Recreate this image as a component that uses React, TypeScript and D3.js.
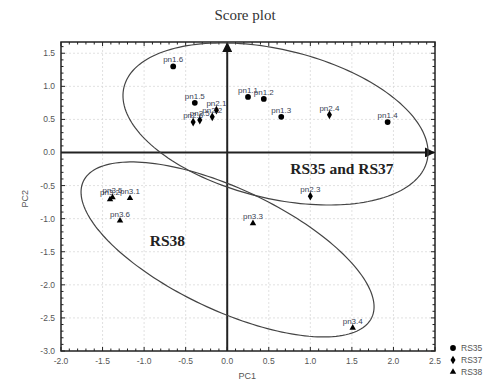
import React, { useEffect, useRef } from "react";
import * as d3 from "d3";

// sample names, groups and scores
const names = [
  "pn1.1", "pn1.2", "pn1.3", "pn1.4", "pn1.5", "pn1.6",
  "pn2.1", "pn2.2", "pn2.3", "pn2.4", "pn2.5", "pn2.6",
  "pn3.1", "pn3.2", "pn3.3", "pn3.4", "pn3.5", "pn3.6",
];
const groups = [
  "RS35", "RS35", "RS35", "RS35", "RS35", "RS35",
  "RS37", "RS37", "RS37", "RS37", "RS37", "RS37",
  "RS38", "RS38", "RS38", "RS38", "RS38", "RS38",
];
const pc1 = [0.25, 0.44, 0.65, 1.93, -0.39, -0.65, -0.13, -0.18, 1.0, 1.23, -0.33, -0.41, -1.17, -1.41, 0.31, 1.51, -1.38, -1.29];
const pc2 = [0.84, 0.81, 0.54, 0.46, 0.75, 1.3, 0.64, 0.54, -0.66, 0.57, 0.49, 0.46, -0.69, -0.71, -1.07, -2.65, -0.68, -1.03];

const xTicks = [-2.0, -1.5, -1.0, -0.5, 0.0, 0.5, 1.0, 1.5, 2.0, 2.5];
const yTicks = [-3.0, -2.5, -2.0, -1.5, -1.0, -0.5, 0.0, 0.5, 1.0, 1.5];
const legendGroups = ["RS35", "RS37", "RS38"];

// confidence ellipses: centre and two half-axis vectors, in PC units
const ellipseCenters = [[0.581, 0.431], [0.004, -1.465]];
const ellipseAxisA = [[1.823, -0.557], [1.735, -1.03]];
const ellipseAxisB = [[-0.212, -1.091], [-0.312, -0.829]];
const ellipseLabels = ["RS35 and RS37", "RS38"];
const ellipseLabelPos = [[1.38, -0.33], [-0.72, -1.42]];

const W = 491, H = 381;

export default function App() {
  const ref = useRef<SVGSVGElement>(null);

  useEffect(() => {
    const svg = d3.select(ref.current);
    svg.selectAll("*").remove();

    const left = 61, right = 435, top = 42, bottom = 351;
    const x = d3.scaleLinear().domain([-2, 2.5]).range([left, right]);
    const y = d3.scaleLinear().domain([-3, 1.67]).range([bottom, top]);

    const sans = "'Liberation Sans', Arial, sans-serif";
    const serif = "'Liberation Serif', 'Times New Roman', serif";

    // title
    svg.append("text")
      .attr("x", 245).attr("y", 20)
      .attr("text-anchor", "middle")
      .style("font-family", serif).style("font-size", "15px").attr("fill", "#333")
      .text("Score plot");

    // grid
    const grid = svg.append("g").attr("stroke", "#d9d9d9").attr("stroke-dasharray", "2,2").attr("stroke-width", 0.8);
    xTicks.slice(1, -1).forEach(t => {
      grid.append("line").attr("x1", x(t)).attr("x2", x(t)).attr("y1", top).attr("y2", bottom);
    });
    yTicks.slice(1).forEach(t => {
      grid.append("line").attr("x1", left).attr("x2", right).attr("y1", y(t)).attr("y2", y(t));
    });

    // frame with inward ticks on all sides
    svg.append("rect")
      .attr("x", left).attr("y", top).attr("width", right - left).attr("height", bottom - top)
      .attr("fill", "none").attr("stroke", "#222").attr("stroke-width", 1.5);

    const ticks = svg.append("g").attr("stroke", "#222").attr("stroke-width", 1);
    d3.range(-2, 2.5001, 0.1).forEach(t => {
      const major = Math.abs(t * 2 - Math.round(t * 2)) < 1e-6;
      const len = major ? 4 : 2.5;
      ticks.append("line").attr("x1", x(t)).attr("x2", x(t)).attr("y1", bottom).attr("y2", bottom - len);
      ticks.append("line").attr("x1", x(t)).attr("x2", x(t)).attr("y1", top).attr("y2", top + len);
    });
    d3.range(-3, 1.67, 0.1).forEach(t => {
      const major = Math.abs(t * 2 - Math.round(t * 2)) < 1e-6;
      const len = major ? 4 : 2.5;
      ticks.append("line").attr("x1", left).attr("x2", left + len).attr("y1", y(t)).attr("y2", y(t));
      ticks.append("line").attr("x1", right).attr("x2", right - len).attr("y1", y(t)).attr("y2", y(t));
    });

    // tick labels
    xTicks.forEach(t => {
      svg.append("text")
        .attr("x", x(t)).attr("y", bottom + 13)
        .attr("text-anchor", "middle")
        .style("font-family", sans).style("font-size", "8.5px").attr("fill", "#555")
        .text(t.toFixed(1));
    });
    yTicks.forEach(t => {
      svg.append("text")
        .attr("x", left - 6).attr("y", y(t) + 3)
        .attr("text-anchor", "end")
        .style("font-family", sans).style("font-size", "8.5px").attr("fill", "#555")
        .text(t.toFixed(1));
    });

    // axis titles
    svg.append("text")
      .attr("x", x(0.24)).attr("y", 379)
      .attr("text-anchor", "middle")
      .style("font-family", sans).style("font-size", "9px").attr("fill", "#555")
      .text("PC1");
    svg.append("text")
      .attr("transform", `translate(28,${y(-0.7)})rotate(-90)`)
      .attr("text-anchor", "middle")
      .style("font-family", sans).style("font-size", "9px").attr("fill", "#555")
      .text("PC2");

    // arrows through the origin
    const defs = svg.append("defs");
    defs.append("marker")
      .attr("id", "arrow").attr("viewBox", "0 0 10 10")
      .attr("refX", 9).attr("refY", 5)
      .attr("markerWidth", 5).attr("markerHeight", 5)
      .attr("orient", "auto")
      .append("path").attr("d", "M0,0L10,5L0,10Z").attr("fill", "#111");
    svg.append("line")
      .attr("x1", x(0)).attr("x2", x(0)).attr("y1", bottom).attr("y2", top + 1)
      .attr("stroke", "#222").attr("stroke-width", 2).attr("marker-end", "url(#arrow)");
    svg.append("line")
      .attr("x1", left).attr("x2", right - 1).attr("y1", y(0)).attr("y2", y(0))
      .attr("stroke", "#222").attr("stroke-width", 2).attr("marker-end", "url(#arrow)");

    // ellipses
    ellipseCenters.forEach((c, k) => {
      const a = ellipseAxisA[k], b = ellipseAxisB[k];
      const ts = d3.range(0, Math.PI * 2, Math.PI / 90);
      const path = d3.line<number>()
        .x(t => x(c[0] + a[0] * Math.cos(t) + b[0] * Math.sin(t)))
        .y(t => y(c[1] + a[1] * Math.cos(t) + b[1] * Math.sin(t)))
        .curve(d3.curveLinearClosed);
      svg.append("path").attr("d", path(ts))
        .attr("fill", "none").attr("stroke", "#444").attr("stroke-width", 1.2);
      svg.append("text")
        .attr("x", x(ellipseLabelPos[k][0])).attr("y", y(ellipseLabelPos[k][1]))
        .attr("text-anchor", "middle")
        .style("font-family", serif).style("font-size", "15.5px").style("font-weight", "bold").attr("fill", "#222")
        .text(ellipseLabels[k]);
    });

    // point markers
    const symbolFor = (g: string) =>
      g === "RS35" ? d3.symbol(d3.symbolCircle, 26)
        : g === "RS37" ? d3.symbol(d3.symbolDiamond, 22)
          : d3.symbol(d3.symbolTriangle, 18);

    names.forEach((n, i) => {
      const px = x(pc1[i]), py = y(pc2[i]);
      svg.append("path")
        .attr("transform", `translate(${px},${py})`)
        .attr("d", symbolFor(groups[i])()!)
        .attr("fill", "#000");
      svg.append("text")
        .attr("x", px).attr("y", py - 4)
        .attr("text-anchor", "middle")
        .style("font-family", sans).style("font-size", "8px").attr("fill", "#3a3f55")
        .text(n);
    });

    // legend
    legendGroups.forEach((g, i) => {
      const ly = 348 + i * 12;
      svg.append("path")
        .attr("transform", `translate(453,${ly})`)
        .attr("d", symbolFor(g)()!)
        .attr("fill", "#000");
      svg.append("text")
        .attr("x", 461).attr("y", ly + 3)
        .style("font-family", sans).style("font-size", "8.5px").attr("fill", "#555")
        .text(g);
    });
  }, []);

  return (
    <svg ref={ref} width={W} height={H}
      style={{ position: "absolute", left: 0, top: 0, background: "#fff" }} />
  );
}
